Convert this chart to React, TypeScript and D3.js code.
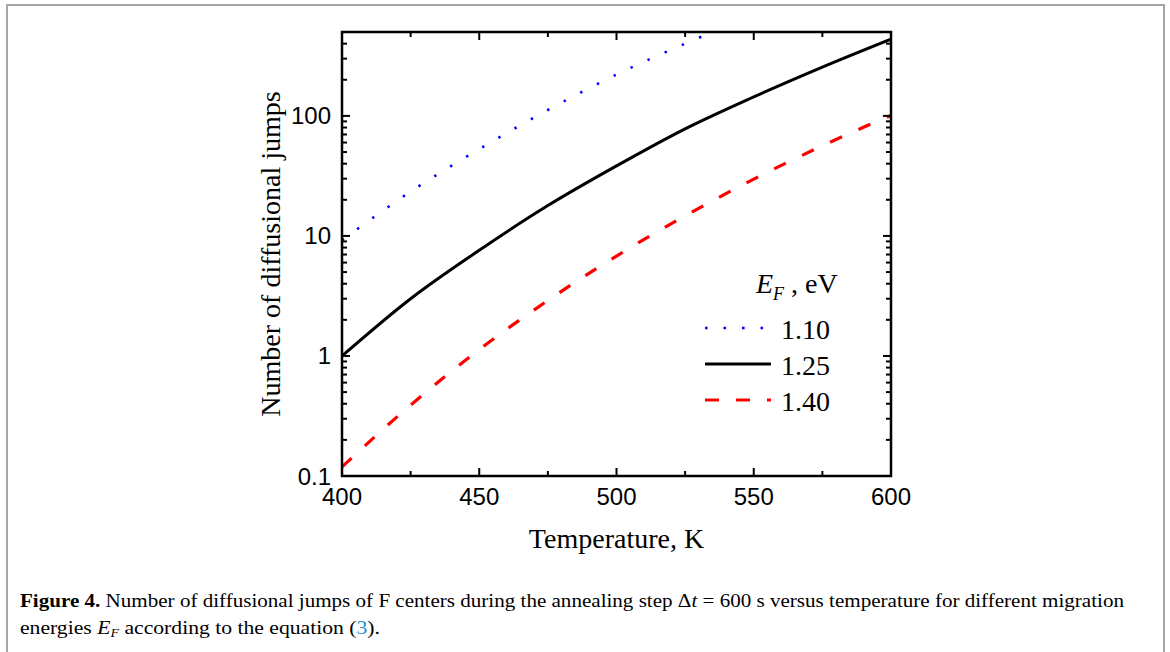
import React from "react";
import * as d3 from "d3";

const temps = [400, 425, 450, 475, 500, 525, 550, 575, 600];
const tempsBlue = [400, 425, 450, 475, 500, 525, 550];

// Number of diffusional jumps for each migration energy
const jumps110 = [9.2, 23.4, 53, 112, 221, 400, 690];
const jumps125 = [1.0, 3.0, 7.6, 17.9, 38.3, 78, 144, 255, 436];
const jumps140 = [0.119, 0.39, 1.13, 2.9, 6.8, 14.7, 29.7, 56.4, 101];

const xTicksMajor = [400, 450, 500, 550, 600];
const xTicksMinor = [425, 475, 525, 575];
const yTicksMajor = [0.1, 1, 10, 100];
const yTickLabels = ["0.1", "1", "10", "100"];

const legendLabels = ["1.10", "1.25", "1.40"];

const W = 1170;
const H = 652;
const plot = { left: 342, right: 891, top: 32, bottom: 476 };

export default function App() {
  const x = d3.scaleLinear().domain([400, 600]).range([plot.left, plot.right]);
  const y = d3.scaleLog().domain([0.1, 500]).range([plot.bottom, plot.top]);

  const line = d3
    .line<[number, number]>()
    .x((d) => x(d[0]))
    .y((d) => y(d[1]))
    .curve(d3.curveMonotoneX);

  const blue = line(tempsBlue.map((t, i) => [t, jumps110[i]] as [number, number])) || "";
  const black = line(temps.map((t, i) => [t, jumps125[i]] as [number, number])) || "";
  const red = line(temps.map((t, i) => [t, jumps140[i]] as [number, number])) || "";

  // minor log ticks
  const yMinor: number[] = [];
  for (const dec of [0.1, 1, 10, 100]) {
    for (let k = 2; k <= 9; k++) {
      const v = dec * k;
      if (v <= 500) yMinor.push(v);
    }
  }

  const serif = "'Liberation Serif', 'Times New Roman', serif";
  const sans = "'Liberation Sans', Arial, sans-serif";
  const majorLen = 8;
  const minorLen = 5;

  const legendRows = [
    { y: 328, color: "#0000ff", width: 2.6, dash: "2.6 15.9", label: legendLabels[0], base: 339 },
    { y: 364, color: "#000000", width: 3, dash: "", label: legendLabels[1], base: 375 },
    { y: 400, color: "#ff0000", width: 3.2, dash: "14 17", label: legendLabels[2], base: 411 },
  ];

  return (
    <svg
      width={W}
      height={H}
      style={{ position: "absolute", left: 0, top: 0, background: "#fff" }}
      xmlns="http://www.w3.org/2000/svg"
    >
      <defs>
        <clipPath id="plotClip">
          <rect x={plot.left} y={plot.top} width={plot.right - plot.left} height={plot.bottom - plot.top} />
        </clipPath>
      </defs>
      <rect x={0} y={0} width={W} height={H} fill="#fff" />
      {/* outer frame */}
      <rect x={7} y={5} width={1157} height={H + 10} fill="none" stroke="#a6a6a6" strokeWidth={2} />

      {/* data lines */}
      <g clipPath="url(#plotClip)" fill="none">
        <path d={red} stroke="#ff0000" strokeWidth={3.2} strokeDasharray="13 18" />
        <path d={black} stroke="#000" strokeWidth={3} />
        <path d={blue} stroke="#0000ff" strokeWidth={2.6} strokeDasharray="2.4 16.3" />
      </g>

      {/* ticks */}
      <g stroke="#000" strokeWidth={2}>
        {xTicksMajor.map((t) => (
          <g key={"xM" + t}>
            <line x1={x(t)} x2={x(t)} y1={plot.bottom} y2={plot.bottom - majorLen} />
            <line x1={x(t)} x2={x(t)} y1={plot.top} y2={plot.top + majorLen} />
          </g>
        ))}
        {xTicksMinor.map((t) => (
          <g key={"xm" + t}>
            <line x1={x(t)} x2={x(t)} y1={plot.bottom} y2={plot.bottom - minorLen} />
            <line x1={x(t)} x2={x(t)} y1={plot.top} y2={plot.top + minorLen} />
          </g>
        ))}
        {yTicksMajor.map((t) => (
          <g key={"yM" + t}>
            <line x1={plot.left} x2={plot.left + majorLen} y1={y(t)} y2={y(t)} />
            <line x1={plot.right} x2={plot.right - majorLen} y1={y(t)} y2={y(t)} />
          </g>
        ))}
        {yMinor.map((t) => (
          <g key={"ym" + t}>
            <line x1={plot.left} x2={plot.left + minorLen} y1={y(t)} y2={y(t)} />
            <line x1={plot.right} x2={plot.right - minorLen} y1={y(t)} y2={y(t)} />
          </g>
        ))}
      </g>

      {/* axes frame */}
      <rect
        x={plot.left}
        y={plot.top}
        width={plot.right - plot.left}
        height={plot.bottom - plot.top}
        fill="none"
        stroke="#000"
        strokeWidth={2.5}
      />

      {/* tick labels */}
      <g fontFamily={sans} fontSize={24} fill="#000">
        {xTicksMajor.map((t) => (
          <text key={"xl" + t} x={x(t)} y={505} textAnchor="middle">
            {t}
          </text>
        ))}
        {yTicksMajor.map((t, i) => (
          <text key={"yl" + t} x={331} y={y(t) + 8.5} textAnchor="end">
            {yTickLabels[i]}
          </text>
        ))}
      </g>

      {/* axis titles */}
      <text x={(plot.left + plot.right) / 2} y={548} textAnchor="middle" fontFamily={serif} fontSize={28}>
        Temperature, K
      </text>
      <text
        transform={`translate(280, ${(plot.top + plot.bottom) / 2}) rotate(-90)`}
        textAnchor="middle"
        fontFamily={serif}
        fontSize={28}
      >
        Number of diffusional jumps
      </text>

      {/* legend */}
      <text x={756} y={293} fontFamily={serif} fontSize={28}>
        <tspan fontStyle="italic">E</tspan>
        <tspan fontStyle="italic" fontSize={18} dy={7}>F</tspan>
        <tspan dy={-7}> , eV</tspan>
      </text>
      {legendRows.map((r) => (
        <g key={r.label}>
          <line
            x1={705}
            x2={771}
            y1={r.y}
            y2={r.y}
            stroke={r.color}
            strokeWidth={r.width}
            strokeDasharray={r.dash || undefined}
          />
          <text x={781} y={r.base} fontFamily={serif} fontSize={28}>
            {r.label}
          </text>
        </g>
      ))}

      {/* caption */}
      <text x={20} y={607} fontFamily={serif} fontSize={18.5} textLength={1104} lengthAdjust="spacingAndGlyphs">
        <tspan fontWeight="bold">Figure 4.</tspan> Number of diffusional jumps of F centers during the annealing step{" "}
        <tspan>Δ</tspan>
        <tspan fontStyle="italic">t</tspan> = 600 s versus temperature for different migration
      </text>
      <text x={20} y={634} fontFamily={serif} fontSize={18.5} textLength={360} lengthAdjust="spacingAndGlyphs">
        energies <tspan fontStyle="italic">E</tspan>
        <tspan fontStyle="italic" fontSize={12} dy={3}>F</tspan>
        <tspan dy={-3}> according to the equation (</tspan>
        <tspan fill="#1f8ccf">3</tspan>).
      </text>
    </svg>
  );
}
